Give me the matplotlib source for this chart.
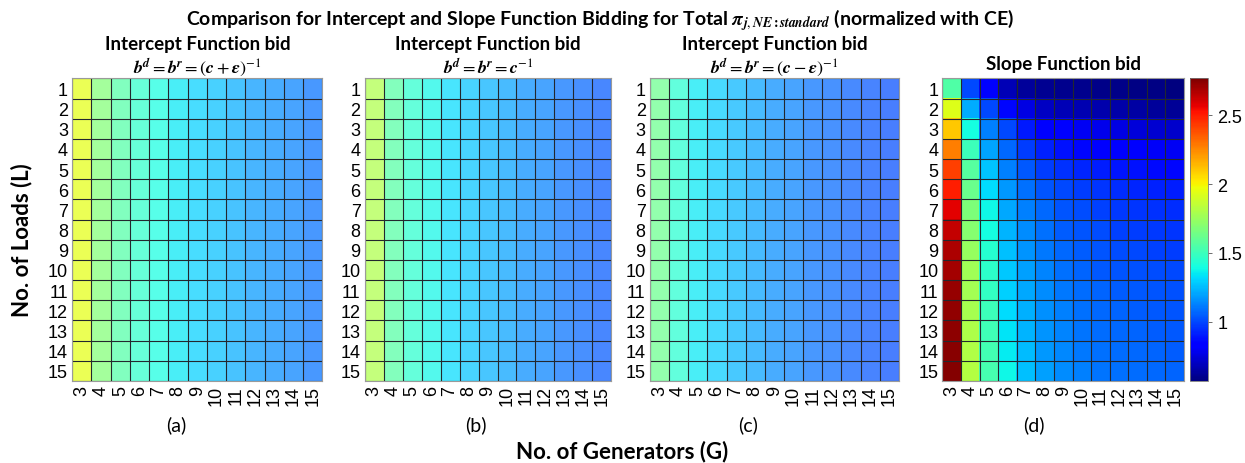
import numpy as np
import matplotlib
matplotlib.use("Agg")
import matplotlib.pyplot as plt

# Axis categories
generators = list(range(3, 16))
loads = list(range(1, 16))

# Intercept bids: values only change with the number of generators (same for every load)
intercept_plus = [1.95, 1.68, 1.55, 1.46, 1.40, 1.35, 1.30, 1.26, 1.22, 1.18, 1.15, 1.12, 1.09]
intercept_zero = [1.80, 1.56, 1.45, 1.38, 1.32, 1.27, 1.23, 1.19, 1.15, 1.12, 1.09, 1.06, 1.04]
intercept_minus = [1.62, 1.44, 1.35, 1.29, 1.24, 1.19, 1.15, 1.12, 1.09, 1.07, 1.05, 1.03, 1.01]

# Slope bid: rows = loads 1..15, cols = generators 3..15
slope_bid = [
    [1.55, 1.00, 0.83, 0.68, 0.63, 0.61, 0.60, 0.60, 0.59, 0.59, 0.58, 0.58, 0.57],
    [1.93, 1.22, 1.00, 0.86, 0.76, 0.70, 0.68, 0.67, 0.66, 0.65, 0.64, 0.63, 0.62],
    [2.10, 1.40, 1.12, 1.00, 0.90, 0.85, 0.82, 0.80, 0.78, 0.76, 0.75, 0.73, 0.72],
    [2.28, 1.50, 1.20, 1.07, 0.98, 0.92, 0.88, 0.86, 0.84, 0.83, 0.82, 0.81, 0.80],
    [2.42, 1.57, 1.27, 1.12, 1.04, 0.98, 0.95, 0.93, 0.91, 0.89, 0.88, 0.87, 0.86],
    [2.50, 1.62, 1.32, 1.18, 1.09, 1.03, 1.00, 0.98, 0.96, 0.94, 0.93, 0.92, 0.91],
    [2.58, 1.67, 1.38, 1.21, 1.12, 1.07, 1.03, 1.01, 0.99, 0.97, 0.96, 0.95, 0.94],
    [2.64, 1.70, 1.40, 1.24, 1.15, 1.09, 1.05, 1.03, 1.01, 0.99, 0.98, 0.97, 0.96],
    [2.68, 1.74, 1.44, 1.26, 1.17, 1.11, 1.07, 1.05, 1.03, 1.01, 1.00, 0.99, 0.98],
    [2.70, 1.77, 1.46, 1.28, 1.19, 1.13, 1.09, 1.06, 1.04, 1.03, 1.02, 1.01, 1.00],
    [2.72, 1.78, 1.48, 1.30, 1.21, 1.15, 1.11, 1.08, 1.06, 1.05, 1.04, 1.03, 1.02],
    [2.73, 1.79, 1.50, 1.32, 1.23, 1.16, 1.12, 1.09, 1.07, 1.06, 1.05, 1.04, 1.03],
    [2.74, 1.80, 1.51, 1.34, 1.24, 1.17, 1.13, 1.10, 1.08, 1.07, 1.06, 1.05, 1.04],
    [2.75, 1.81, 1.52, 1.36, 1.25, 1.18, 1.14, 1.11, 1.09, 1.08, 1.07, 1.06, 1.05],
    [2.76, 1.82, 1.53, 1.38, 1.26, 1.19, 1.15, 1.12, 1.10, 1.09, 1.08, 1.07, 1.06],
]

vmin, vmax = 0.57, 2.77
panel_labels = ["(a)", "(b)", "(c)", "(d)"]
B = r"\boldsymbol"
math_titles = [rf"${B}{{b}}^{{{B}{{d}}}} = {B}{{b}}^{{{B}{{r}}}} = ({B}{{c}} + {B}{{\epsilon}})^{{-1}}$",
               rf"${B}{{b}}^{{{B}{{d}}}} = {B}{{b}}^{{{B}{{r}}}} = {B}{{c}}^{{-1}}$",
               rf"${B}{{b}}^{{{B}{{d}}}} = {B}{{b}}^{{{B}{{r}}}} = ({B}{{c}} - {B}{{\epsilon}})^{{-1}}$"]

plt.rcParams["font.family"] = ["Liberation Sans", "DejaVu Sans"]
plt.rcParams["mathtext.fontset"] = "stix"
title_font = "Lato"

fig = plt.figure(figsize=(12.45, 4.64), dpi=100)

# axes boxes in figure fractions (left, bottom, width, height)
boxes = [[0.058, 0.177, 0.201, 0.652],
         [0.293, 0.177, 0.198, 0.652],
         [0.522, 0.177, 0.200, 0.652],
         [0.757, 0.177, 0.194, 0.652]]
label_x = [176, 476, 748, 1034]

data = [np.tile(intercept_plus, (len(loads), 1)),
        np.tile(intercept_zero, (len(loads), 1)),
        np.tile(intercept_minus, (len(loads), 1)),
        np.array(slope_bid)]

for i, (box, z) in enumerate(zip(boxes, data)):
    ax = fig.add_axes(box)
    alpha = 0.72 if i < 3 else 1.0
    im = ax.imshow(z, cmap="jet", vmin=vmin, vmax=vmax, aspect="auto",
                   alpha=alpha, interpolation="nearest")
    ax.set_xticks(range(len(generators)))
    ax.set_xticklabels([str(g) for g in generators], rotation=90, fontsize=13)
    ax.set_yticks(range(len(loads)))
    ax.set_yticklabels([str(l) for l in loads], fontsize=13)
    ax.set_xticks(np.arange(-0.5, len(generators), 1), minor=True)
    ax.set_yticks(np.arange(-0.5, len(loads), 1), minor=True)
    ax.grid(which="minor", color="#23272e", linewidth=0.8)
    ax.tick_params(which="both", length=0, pad=3)
    for s in ax.spines.values():
        s.set_color("#9a9a9a")
        s.set_linewidth(0.8)
    if i < 3:
        ax.text(0.5, 1.115, "Intercept Function bid", transform=ax.transAxes,
                ha="center", va="center", fontsize=13.5, fontweight="bold", family=title_font)
        ax.text(0.5, 1.004, math_titles[i], transform=ax.transAxes,
                ha="center", va="bottom", fontsize=13)
    else:
        ax.text(0.5, 1.05, "Slope Function bid", transform=ax.transAxes,
                ha="center", va="center", fontsize=13.5, fontweight="bold", family=title_font)
    fig.text(label_x[i] / 1245, 1 - 425 / 464, panel_labels[i], ha="center", va="center",
             fontsize=14, family=title_font)

# colorbar
cax = fig.add_axes([0.956, 0.177, 0.0145, 0.652])
cb = fig.colorbar(im, cax=cax, ticks=[1, 1.5, 2, 2.5])
cb.ax.set_yticklabels(["1", "1.5", "2", "2.5"], fontsize=13)
cb.ax.tick_params(length=3, width=0.6, color="#555555", direction="out")
cb.outline.set_edgecolor("#777777")
cb.outline.set_linewidth(0.6)

fig.text(600 / 1245, 1 - 20 / 464,
         r"Comparison for Intercept and Slope Function Bidding for Total $\boldsymbol{\pi}_{\boldsymbol{j,NE:standard}}$ (normalized with CE)",
         ha="center", va="center", fontsize=14, fontweight="bold", family=title_font)
fig.text(0.5, 1 - 452 / 464, "No. of Generators (G)", ha="center", va="center",
         fontsize=16, fontweight="bold", family=title_font)
fig.text(22 / 1245, 1 - 240 / 464, "No. of Loads (L)", ha="center", va="center",
         rotation=90, fontsize=16, fontweight="bold", family=title_font)

fig.savefig("out.png", dpi=100)
